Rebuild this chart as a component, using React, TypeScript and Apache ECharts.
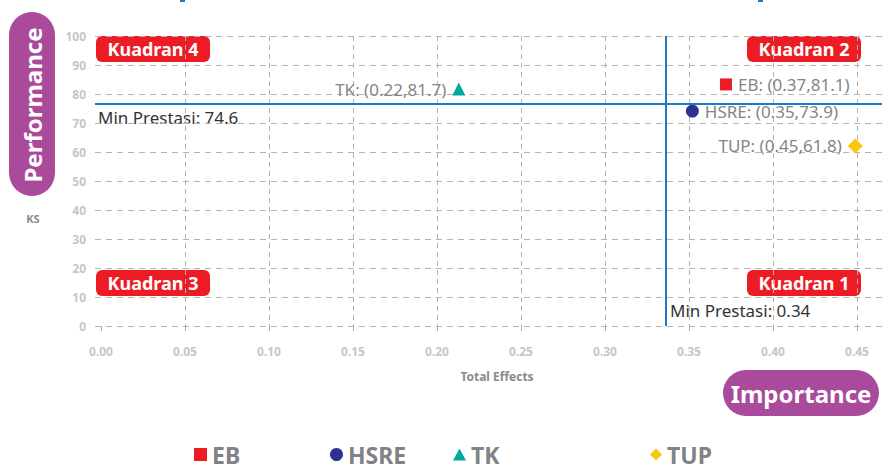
import React, { useEffect, useRef } from "react";
import * as echarts from "echarts";

const categories = ["EB", "HSRE", "TK", "TUP"];
const importance = [0.372, 0.352, 0.213, 0.449];
const performance = [83.3, 74.1, 81.7, 62.1];
const pointLabels = ["EB: (0.37,81.1)", "HSRE: (0.35,73.9)", "TK: (0.22,81.7)", "TUP: (0.45,61.8)"];
const colors = ["#ed1c24", "#2e3192", "#00a99d", "#fcc60f"];
const symbols = ["rect", "circle", "triangle", "diamond"];
const symbolSizes = [12, 13, 13, 15];
const labelSides = ["right", "right", "left", "left"];
const minPerformance = 76.5;
const minImportance = 0.336;
const minPerformanceText = "Min Prestasi: 74.6";
const minImportanceText = "Min Prestasi: 0.34";
const quadrantNames = ["Kuadran 4", "Kuadran 2", "Kuadran 3", "Kuadran 1"];
const yRange = [0, 100, 10];
const xRange = [0, 0.45, 0.05];
const legendLefts = [189, 325, 448, 645];

const FONT = "'Noto Sans', sans-serif";
const GRID_TOP = 36;
const GRID_H = 290;

export default function App() {
  const ref = useRef<HTMLDivElement>(null);
  useEffect(() => {
    document.body.style.margin = "0";
    const chart = echarts.init(ref.current!, null, { renderer: "svg" });
    const series: any[] = categories.map((name, i) => ({
      name,
      type: "scatter",
      xAxisIndex: 1,
      yAxisIndex: 1,
      symbol: symbols[i],
      symbolSize: symbolSizes[i],
      itemStyle: { color: colors[i], opacity: 1 },
      data: [[importance[i], performance[i]]],
      label: {
        show: true,
        position: labelSides[i],
        distance: 6,
        formatter: pointLabels[i],
        color: "#858585",
        fontSize: 17,
        fontFamily: FONT,
      },
      markLine:
        i === 0
          ? {
              silent: true,
              symbol: "none",
              precision: 4,
              label: { show: false },
              lineStyle: { color: "#1b7bc9", width: 2, type: "solid" },
              data: [{ xAxis: minImportance }],
            }
          : undefined,
    }));
    series.push({
      name: "minPerf",
      type: "scatter",
      xAxisIndex: 0,
      yAxisIndex: 0,
      data: [],
      markLine: {
        silent: true,
        symbol: "none",
        precision: 4,
        label: { show: false },
        lineStyle: { color: "#1b7bc9", width: 2, type: "solid" },
        data: [{ yAxis: minPerformance }],
      },
    });

    const legendIcons = ["rect", "circle", "triangle", "diamond"];
    const legendSizes = [[13, 13], [13, 13], [13, 12], [12, 12]];
    const legends = categories.map((name, i) => ({
      data: [{ name, icon: legendIcons[i] }],
      left: legendLefts[i],
      top: 438,
      itemWidth: legendSizes[i][0],
      itemHeight: legendSizes[i][1],
      itemGap: 5,
      selectedMode: false,
      textStyle: {
        fontSize: 23,
        lineHeight: 20,
        fontWeight: "bold",
        color: "#808285",
        fontFamily: FONT,
      },
    }));

    const qPos = [
      [96, 36],
      [747, 36],
      [96, 270],
      [747, 270],
    ];
    const quadrants = quadrantNames.map((t, i) => ({
      type: "group",
      x: qPos[i][0],
      y: qPos[i][1],
      children: [
        { type: "rect", shape: { x: 0, y: 0, width: 114, height: 26, r: 6 }, style: { fill: "#ed1c24" } },
        {
          type: "text",
          x: 57,
          y: 13,
          style: { text: t, fill: "#fff", font: `bold 18px ${FONT}`, align: "center", verticalAlign: "middle" },
        },
      ],
    }));

    chart.setOption({
      animation: false,
      grid: [
        { left: 95, right: 0, top: GRID_TOP, height: GRID_H },
        { left: 101, width: 756, top: GRID_TOP, height: GRID_H },
      ],
      xAxis: [
        { gridIndex: 0, type: "value", min: 0, max: 1, show: false },
        {
          gridIndex: 1,
          type: "value",
          min: xRange[0],
          max: xRange[1],
          interval: xRange[2],
          offset: 6,
          axisLine: { show: false },
          axisTick: { show: true, length: 5, lineStyle: { color: "#aaaaaa" } },
          axisLabel: {
            margin: 13,
            color: "#c6c6c6",
            fontWeight: "bold",
            fontSize: 12,
            fontFamily: FONT,
            formatter: (v: number) => v.toFixed(2),
          },
          splitLine: {
            show: true,
            showMinLine: false,
            lineStyle: { color: "#b3b3b3", type: [5, 4], width: 1 },
          },
        },
      ],
      yAxis: [
        {
          gridIndex: 0,
          type: "value",
          min: yRange[0],
          max: yRange[1],
          interval: yRange[2],
          axisLine: { show: false },
          axisTick: { show: false },
          axisLabel: {
            margin: 9,
            color: "#c6c6c6",
            fontWeight: "bold",
            fontSize: 12,
            fontFamily: FONT,
            padding: [0, 0, 8, 0],
          },
          splitLine: { show: true, lineStyle: { color: "#b3b3b3", type: [6, 5], width: 1 } },
        },
        { gridIndex: 1, type: "value", min: yRange[0], max: yRange[1], show: false },
      ],
      legend: legends,
      series,
      graphic: [
        { type: "rect", shape: { x: 180, y: 0, width: 5, height: 2 }, style: { fill: "#1b7bc9" } },
        { type: "rect", shape: { x: 758, y: 0, width: 5, height: 2 }, style: { fill: "#1b7bc9" } },
        { type: "rect", shape: { x: 9, y: 12, width: 46, height: 184, r: 23 }, style: { fill: "#a94a9a" } },
        {
          type: "text",
          x: 32,
          y: 105,
          rotation: Math.PI / 2,
          style: { text: "Performance", fill: "#fff", font: `bold 24px ${FONT}`, align: "center", verticalAlign: "middle" },
        },
        { type: "rect", shape: { x: 723, y: 370, width: 156, height: 46, r: 23 }, style: { fill: "#a94a9a" } },
        {
          type: "text",
          x: 801,
          y: 393,
          style: { text: "Importance", fill: "#fff", font: `bold 24px ${FONT}`, align: "center", verticalAlign: "middle" },
        },
        {
          type: "text",
          x: 33,
          y: 218,
          style: { text: "KS", fill: "#8a8a8a", font: `bold 11px ${FONT}`, align: "center", verticalAlign: "middle" },
        },
        {
          type: "text",
          x: 497,
          y: 376,
          style: { text: "Total Effects", fill: "#8a8a8a", font: `bold 12px ${FONT}`, align: "center", verticalAlign: "middle" },
        },
        {
          type: "text",
          x: 98,
          y: 117,
          style: { text: minPerformanceText, fill: "#333", font: `17px ${FONT}`, align: "left", verticalAlign: "middle" },
        },
        {
          type: "text",
          x: 670,
          y: 310,
          style: { text: minImportanceText, fill: "#333", font: `17px ${FONT}`, align: "left", verticalAlign: "middle" },
        },
        ...quadrants,
      ],
    });
    return () => chart.dispose();
  }, []);
  return <div ref={ref} style={{ width: 882, height: 466 }} />;
}
